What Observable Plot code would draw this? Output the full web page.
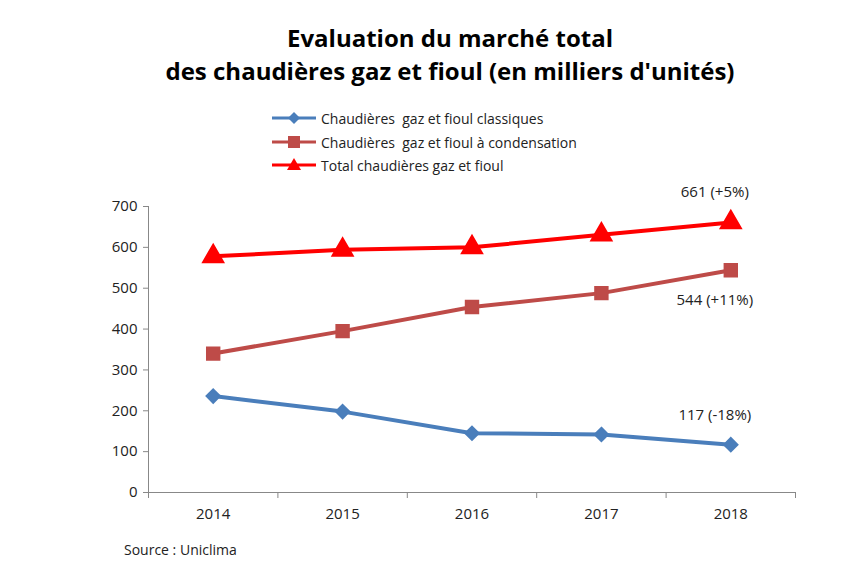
<!DOCTYPE html>
<html><head><meta charset="utf-8">
<script src="https://cdn.jsdelivr.net/npm/d3@7"></script>
<script src="https://cdn.jsdelivr.net/npm/@observablehq/plot@0.6"></script>
<style>
body{margin:0;background:#fff;font-family:"Open Sans",sans-serif;}
#wrap{position:relative;width:860px;height:573px;}
#title{position:absolute;top:21px;left:0;width:900px;text-align:center;font-weight:bold;font-size:24px;line-height:33px;color:#000;font-family:"Open Sans";}
.leg{position:absolute;left:272px;font-size:14px;color:#222;display:flex;align-items:center;}
.leg svg{margin-right:5px}
#src{position:absolute;left:124px;top:540px;font-size:14px;color:#222;}
</style></head><body>
<div id="wrap"><div id="chart"></div>
<div id="title">Evaluation du marché total<br>des chaudières gaz et fioul (en milliers d'unités)</div>
<div class="leg" style="top:108px"><svg width="44" height="20"><line x1="0" y1="10" x2="44" y2="10" stroke="#4a7ebb" stroke-width="3"/><path d="M22 4 L28 10 L22 16 L16 10Z" fill="#4a7ebb"/></svg>Chaudières&nbsp; gaz et fioul classiques</div>
<div class="leg" style="top:132px"><svg width="44" height="20"><line x1="0" y1="10" x2="44" y2="10" stroke="#be4b48" stroke-width="3"/><rect x="16" y="4" width="12" height="12" fill="#be4b48"/></svg>Chaudières&nbsp; gaz et fioul à condensation</div>
<div class="leg" style="top:155px"><svg width="44" height="20"><line x1="0" y1="10" x2="44" y2="10" stroke="#ff0000" stroke-width="3"/><path d="M22 3 L29 15 L15 15Z" fill="#ff0000"/></svg>Total chaudières gaz et fioul</div>
<div id="src">Source : Uniclima</div>
</div>
<script>
const years=[2014,2015,2016,2017,2018];
const classiques=[236,198,145,142,117];
const condensation=[340,395,454,488,544];
const total=[578,594,600,631,661];
const yTicks=[0,100,200,300,400,500,600,700];
const labels=["117 (-18%)","544 (+11%)","661 (+5%)"];
const series=[
 {name:"classiques",vals:classiques,color:"#4a7ebb",symbol:"diamond2",r:6,label:labels[0],dy:-30},
 {name:"condensation",vals:condensation,color:"#be4b48",symbol:"square",r:7,label:labels[1],dy:30},
 {name:"total",vals:total,color:"#ff0000",symbol:"triangle",r:7.5,label:labels[2],dy:-30}
];
const marks=[
 Plot.axisY({ticks:yTicks,tickSize:5,tickPadding:6,fontSize:15,label:null,stroke:"#888"}),
 Plot.ruleX([2013.5],{stroke:"#888"}),
 Plot.ruleY([0],{stroke:"#888"}),
 Plot.axisX({ticks:[2013.5,2014.5,2015.5,2016.5,2017.5,2018.5],tickFormat:()=>"",tickSize:6,stroke:"#888",label:null}),
 Plot.axisX({ticks:years,tickFormat:d=>String(d),tickSize:0,tickPadding:16,fontSize:15,label:null})
];
for(const s of series){
 const data=years.map((y,i)=>({x:y,y:s.vals[i]}));
 marks.push(Plot.line(data,{x:"x",y:"y",stroke:s.color,strokeWidth:4}));
 marks.push(Plot.dot(data,{x:"x",y:"y",fill:s.color,stroke:s.color,strokeWidth:2,symbol:s.symbol,r:s.r}));
 marks.push(Plot.text([data[4]],{x:"x",y:"y",text:()=>s.label,dy:s.dy,dx:-16,fontSize:15,fill:"#222"}));
}
const p=Plot.plot({width:860,height:573,marginTop:206,marginBottom:81,marginLeft:148,marginRight:65,
 x:{domain:[2013.5,2018.5],label:null},y:{domain:[0,700],label:null},style:{fontFamily:"Open Sans",color:"#222"},marks});
document.getElementById("chart").appendChild(p);
</script></body></html>
